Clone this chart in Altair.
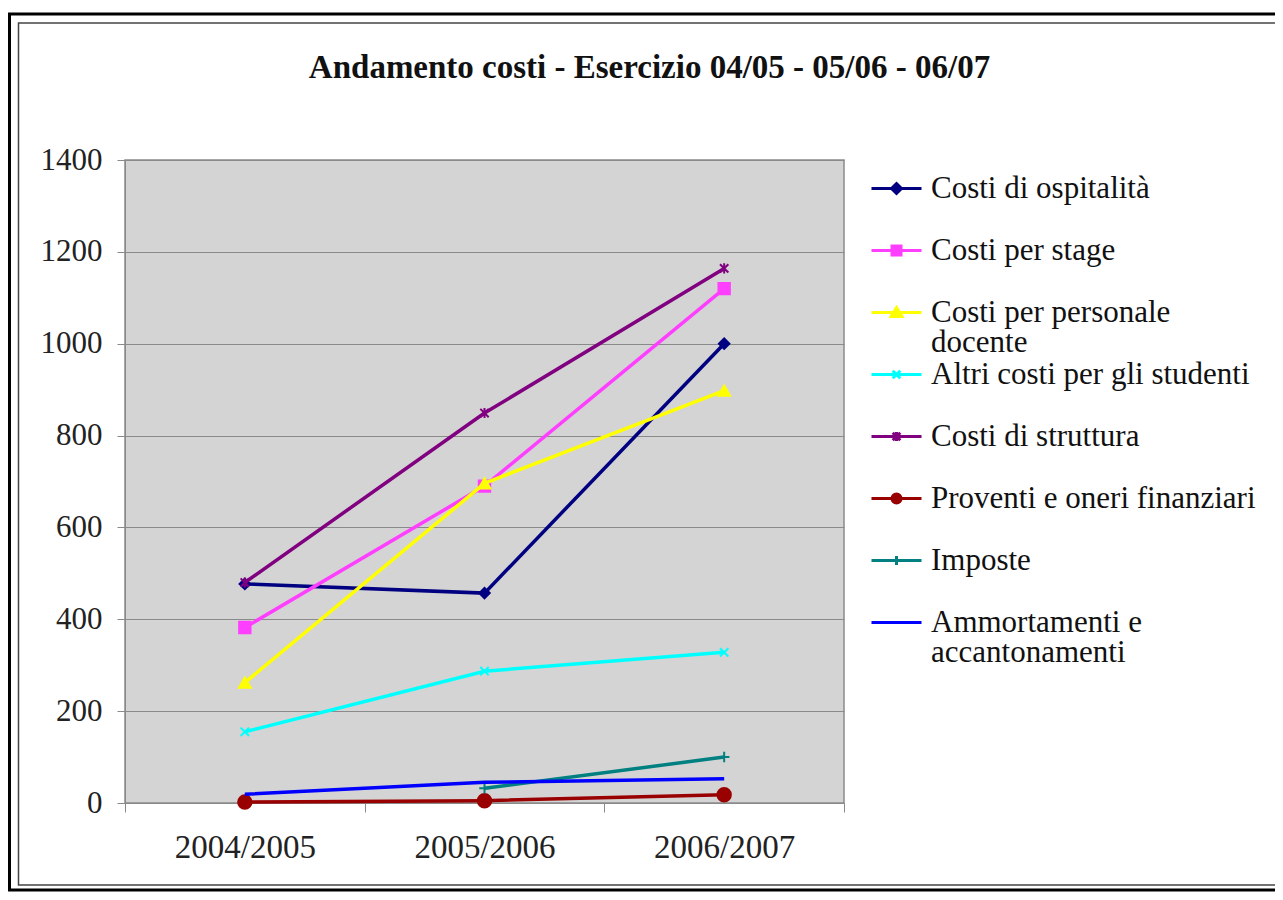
import altair as alt
import pandas as pd

# ---- data -------------------------------------------------------------
years = ["2004/2005", "2005/2006", "2006/2007"]
series = [
    "Costi di ospitalità",
    "Costi per stage",
    "Costi per personale docente",
    "Altri costi per gli studenti",
    "Costi di struttura",
    "Proventi e oneri finanziari",
    "Imposte",
    "Ammortamenti e accantonamenti",
]
ospitalita = [477, 457, 1000]
stage = [382, 690, 1120]
personale = [262, 696, 898]
altri_costi = [155, 287, 328]
struttura = [480, 849, 1164]
proventi = [2, 5, 18]
imposte = [None, 32, 100]
ammortamenti = [19, 45, 53]
y_ticks = [0, 200, 400, 600, 800, 1000, 1200, 1400]

values_by_series = [ospitalita, stage, personale, altri_costi, struttura,
                    proventi, imposte, ammortamenti]

rows = []
for s, vals in zip(series, values_by_series):
    for yr, v in zip(years, vals):
        if v is not None:
            rows.append({"series": s, "year": yr, "value": v})
df = pd.DataFrame(rows)

# ---- styles -----------------------------------------------------------
colors = ["#000080", "#ff3fff", "#ffff00", "#00ffff", "#800080",
          "#990000", "#008080", "#0000ff"]
marker_shapes = [
    ("diamond", 110),
    ("square", 130),
    ("triangle-up", 140),
    ("M-1,-1L1,1M-1,1L1,-1", 70),
    ("M-1,-1L1,1M-1,1L1,-1M0,-1.2L0,1.2", 70),
    ("circle", 180),
    ("M-1,0L1,0M0,-1L0,1", 110),
    (None, 0),
]

# legend symbols: a 50px line with the series' marker in its middle
SYM = 30.0            # sqrt of the legend symbol size
U = SYM / 2.0         # pixels per path unit


def p(v):
    return f"{v / U:.3f}"


L = "M" + p(-25) + ",0L" + p(25) + ",0"
m = 5.0
legend_paths = [
    L + f"M0,{p(-m)}L{p(m)},0L0,{p(m)}L{p(-m)},0Z",
    L + f"M{p(-4.5)},{p(-4.5)}L{p(4.5)},{p(-4.5)}L{p(4.5)},{p(4.5)}L{p(-4.5)},{p(4.5)}Z",
    L + f"M0,{p(-5)}L{p(5.5)},{p(4)}L{p(-5.5)},{p(4)}Z",
    L + f"M{p(-3.8)},{p(-3.8)}L{p(3.8)},{p(3.8)}M{p(-3.8)},{p(3.8)}L{p(3.8)},{p(-3.8)}",
    L + f"M{p(-3.8)},{p(-3.8)}L{p(3.8)},{p(3.8)}M{p(-3.8)},{p(3.8)}L{p(3.8)},{p(-3.8)}"
    + f"M0,{p(-4.5)}L0,{p(4.5)}",
    L + f"M{p(4.5)},0A{p(4.5)},{p(4.5)},0,1,1,{p(-4.5)},0A{p(4.5)},{p(4.5)},0,1,1,{p(4.5)},0Z",
    L + f"M0,{p(-4.5)}L0,{p(4.5)}",
    L,
]

FONT = "Liberation Serif"
GRID = "#8a8a8a"

color_scale = alt.Scale(domain=series, range=colors)

x_enc = alt.X(
    "year:N",
    sort=years,
    scale=alt.Scale(type="band", domain=years, paddingInner=0, paddingOuter=0),
    axis=alt.Axis(
        title=None, labelAngle=0, tickBand="extent", tickSize=9,
        tickColor=GRID, domainColor=GRID, labelFont=FONT, labelFontSize=33,
        labelColor="#222222", labelPadding=19, grid=False,
    ),
)
y_enc = alt.Y(
    "value:Q",
    scale=alt.Scale(domain=[0, 1400], nice=False),
    axis=alt.Axis(
        title=None, values=y_ticks, format="d", tickSize=8, tickColor=GRID,
        domainColor=GRID, grid=True, gridColor=GRID, gridWidth=1.2,
        labelFont=FONT, labelFontSize=31, labelColor="#222222",
        labelPadding=15,
    ),
)

base = alt.Chart(df)
layers = []

# frame around the whole chart (decoration)
frame_df = pd.DataFrame({"k": [0]})
outer = alt.Chart(frame_df).mark_rect(
    filled=False, stroke="black", strokeWidth=3
).encode(x=alt.value(-115.5), x2=alt.value(1200), y=alt.value(-146), y2=alt.value(730))
inner = alt.Chart(frame_df).mark_rect(
    filled=False, stroke="#444444", strokeWidth=1.5
).encode(x=alt.value(-106.5), x2=alt.value(1200), y=alt.value(-137), y2=alt.value(725))
layers += [outer, inner]

# every legend label gets two lines so that all entries take the same room
label_expr = (
    "datum.label == 'Costi per personale docente' ? ['Costi per personale', 'docente'] : "
    "datum.label == 'Ammortamenti e accantonamenti' ? ['Ammortamenti e', 'accantonamenti'] : "
    "[datum.label, '']"
)


def make_legend():
    return alt.Legend(
        title=None, orient="none", legendX=755, legendY=12, padding=0,
        symbolSize=SYM * SYM, symbolStrokeWidth=3, labelFont=FONT,
        labelFontSize=31, labelColor="#111111", labelLimit=600,
        labelOffset=18, rowPadding=0, labelExpr=label_expr,
        symbolOpacity=1,
    )


# invisible marks that only carry the legend (first, so its legend wins)
legend_layer = base.mark_point(
    filled=True, size=1, strokeWidth=3, opacity=0
).encode(
    x=x_enc, y=y_enc,
    color=alt.Color("series:N", scale=color_scale, legend=make_legend()),
    stroke=alt.Stroke("series:N", scale=color_scale, legend=make_legend()),
    shape=alt.Shape("series:N", scale=alt.Scale(domain=series, range=legend_paths),
                    legend=make_legend()),
)
layers.append(legend_layer)

for i, s in enumerate(series):
    sub = base.transform_filter(alt.datum.series == s)
    line = sub.mark_line(strokeWidth=3.5).encode(
        x=x_enc, y=y_enc,
        color=alt.Color("series:N", scale=color_scale, legend=None),
    )
    layers.append(line)
    shp, size = marker_shapes[i]
    if shp is not None:
        pts = sub.mark_point(
            filled=True, shape=shp, size=size, strokeWidth=2, opacity=1
        ).encode(
            x=x_enc, y=y_enc,
            color=alt.Color("series:N", scale=color_scale, legend=None),
            stroke=alt.Stroke("series:N", scale=color_scale, legend=None),
        )
        layers.append(pts)

chart = alt.layer(*layers).properties(
    width=719,
    height=643,
    autosize=alt.AutoSizeParams(type="none"),
    padding={"left": 117, "top": 152, "right": 431, "bottom": 89},
    title=alt.Title(
        "Andamento costi - Esercizio 04/05 - 05/06 - 06/07",
        font=FONT, fontSize=33, fontWeight="bold", color="#111111",
        anchor="middle", frame="group", dx=165, offset=-72,
    ),
    background="white",
).configure(
    style={"guide-label": {"lineHeight": 30}}
).configure_view(
    fill="#d4d4d4", stroke=GRID, strokeWidth=1.5
)

chart.save("out.html", embed_options={"renderer": "svg", "actions": False})
